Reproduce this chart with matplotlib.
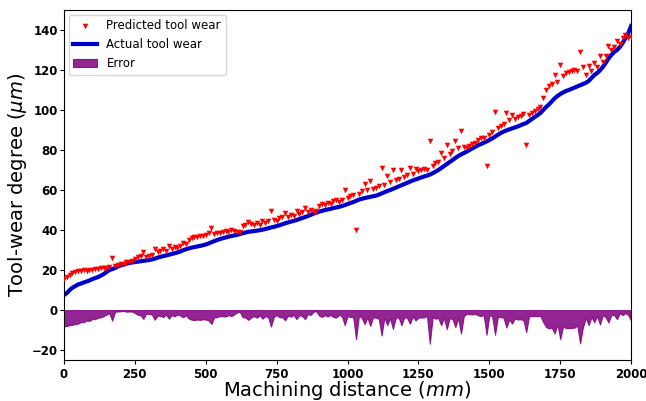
import numpy as np
import matplotlib
matplotlib.use("Agg")
import matplotlib.pyplot as plt

distance = np.arange(0, 2001, 10)

actual = [
    7.5, 8.5, 10, 11.2, 12, 12.8, 13.3, 13.8, 14.3, 14.8,
    15.5, 16, 16.5, 17.2, 18, 19, 20, 20.5, 21, 21.8,
    22.3, 22.8, 23.2, 23.5, 23.8, 24, 24.2, 24.4, 24.6, 24.8,
    25, 25.3, 25.7, 26.2, 26.6, 27, 27.3, 27.7, 28, 28.4,
    28.8, 29.3, 29.9, 30.4, 30.8, 31.2, 31.5, 31.8, 32.1, 32.4,
    32.8, 33.3, 33.9, 34.5, 35, 35.5, 35.9, 36.3, 36.7, 37,
    37.3, 37.6, 38, 38.4, 38.8, 39.1, 39.3, 39.5, 39.7, 39.9,
    40.2, 40.5, 40.9, 41.3, 41.6, 42, 42.4, 42.9, 43.4, 43.8,
    44.2, 44.6, 45, 45.5, 46, 46.5, 47, 47.6, 48.2, 48.7,
    49.2, 49.6, 50, 50.3, 50.6, 51, 51.3, 51.6, 52, 52.5,
    53, 53.5, 54, 54.6, 55.2, 55.6, 56, 56.3, 56.6, 56.9,
    57.2, 57.7, 58.3, 58.9, 59.5, 60, 60.6, 61.2, 61.8, 62.4,
    63, 63.6, 64.2, 64.8, 65.3, 65.8, 66.3, 66.8, 67.2, 67.7,
    68.4, 69.2, 70, 71, 72, 73, 74, 75, 76, 77,
    77.8, 78.5, 79.2, 80, 80.8, 81.6, 82.4, 83, 83.6, 84.3,
    85, 85.8, 86.7, 87.6, 88.5, 89.2, 89.8, 90.3, 90.8, 91.3,
    91.8, 92.4, 93, 93.5, 94.5, 95.5, 96.5, 97.5, 98.5, 100,
    101.5, 102.8, 104.3, 105.8, 107, 108, 108.8, 109.5, 110, 110.6,
    111.2, 111.8, 112.4, 113, 113.6, 114.5, 116, 117.5, 118.5, 119.8,
    121.5, 123.5, 125.8, 127.5, 129, 130, 131.5, 133.5, 136, 138.5,
    142,
]

predicted = [
    15.5, 16.5, 17.5, 18.5, 19, 19.5, 19.3, 19.8, 19.5, 20.2,
    20, 20.5, 20.3, 20.8, 21, 21.2, 21.5, 25.8, 21.8, 22.5,
    22.9, 23.2, 24, 24.2, 24.5, 25.5, 26.5, 27, 29, 26.5,
    27, 27.5, 30.5, 29, 29.5, 30.5, 29.5, 32, 30.5, 31.5,
    31, 32, 33.5, 33, 35, 36, 36.5, 36.5, 37, 37,
    37.5, 38.5, 40.8, 38, 38.5, 38.5, 39, 39.5, 39.2, 40,
    39.5, 38.8, 38.8, 42, 42.5, 44, 43, 42.5, 43.5, 42.5,
    44.5, 43.5, 44.5, 49.5, 45, 44.5, 46, 46.5, 48.5, 46.5,
    47.5, 47, 49.5, 48, 49, 51, 49, 50, 49, 49.3,
    52, 53, 52.5, 53.5, 53, 54.5, 55, 54, 55, 60,
    56, 57, 57.5, 40, 58, 59.5, 63, 60, 64.5, 60.5,
    61, 62, 71, 62.5, 67, 64, 70, 65, 65.5, 70,
    66.5, 67.5, 71, 68, 70.5, 69.5, 70, 70.5, 70, 84.5,
    72, 73.5, 74, 78.5, 76, 82.5, 78, 79.5, 84.5, 81,
    89.5, 81.5, 81, 82, 83, 83.5, 85, 86, 86, 72,
    87.5, 89, 99, 91, 92, 93, 98.5, 95, 97.5, 95.5,
    96.5, 97, 98, 82.5, 97.5, 98.5, 99.5, 100.5, 101.5, 106,
    110, 112, 113, 117.5, 114, 122.5, 117, 118.5, 119, 119.5,
    120, 119.5, 129, 121.5, 117.5, 122, 119.5, 123.5, 121.5, 127,
    124, 127, 132, 130, 131.5, 134.5, 133, 136, 137.5, 136,
    136.5,
]

actual = np.array(actual)
predicted = np.array(predicted)
error = -np.abs(predicted - actual)

fig = plt.figure(figsize=(6.46, 4.01), dpi=100)
ax = fig.add_axes([0.099, 0.102, 0.878, 0.873])

ax.fill_between(distance, error, 0, color="purple", alpha=0.85, linewidth=0.8,
                label="Error")
ax.plot(distance, actual, color="mediumblue", lw=3, label="Actual tool wear")
ax.scatter(distance, predicted, marker="v", color="red", s=16, linewidths=0,
           label="Predicted tool wear", zorder=3)

ax.set_xlim(0, 2000)
ax.set_ylim(-25, 150)
ax.set_xticks(np.arange(0, 2001, 250))
ax.set_yticks(np.arange(-20, 141, 20))
ax.tick_params(axis="both", length=3)
ax.tick_params(axis="y", pad=1.5)
ax.tick_params(axis="x", pad=2.5)
for lab in ax.get_xticklabels() + ax.get_yticklabels():
    lab.set_fontweight("bold")
    lab.set_fontsize(8.5)

ax.set_xlabel("Machining distance ($mm$)", fontsize=14)
ax.set_ylabel("Tool-wear degree ($\\mu m$)", fontsize=14)
ax.xaxis.set_label_coords(0.5, -0.055)
ax.yaxis.set_label_coords(-0.062, 0.5)

h, l = ax.get_legend_handles_labels()
order = [2, 1, 0]
ax.legend([h[i] for i in order], [l[i] for i in order], loc="upper left",
          fontsize=8.5, borderaxespad=0.4)

fig.savefig("out.png", dpi=100)
